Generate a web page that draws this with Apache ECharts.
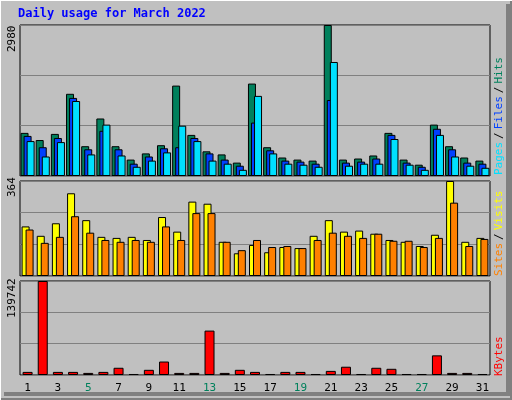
<!DOCTYPE html><html><head><meta charset="utf-8">
<script src="https://cdn.jsdelivr.net/npm/echarts@6/dist/echarts.min.js"></script>
<style>html,body{margin:0;padding:0;background:#c0c0c0}#c{width:512px;height:400px}</style></head><body><div id="c"></div>
<script>
const days = ['1','2','3','4','5','6','7','8','9','10','11','12','13','14','15','16','17','18','19','20','21','22','23','24','25','26','27','28','29','30','31'];
const weekend = ['5','6','12','13','19','20','26','27'];
const hits  = [851,710,831,1622,588,1135,588,324,446,608,1784,811,487,426,264,1824,568,365,324,304,2980,324,345,405,851,324,223,1014,588,365,304];
const files = [791,568,750,1541,527,892,527,243,385,547,568,750,446,324,203,1054,507,304,284,243,1500,264,284,345,811,264,182,932,527,264,243];
const pages = [689,385,669,1480,426,1014,405,182,304,466,993,689,304,243,122,1581,446,243,223,182,2250,203,243,243,730,223,122,811,385,203,162];
const sites = [190,154,202,317,214,150,146,150,138,226,170,285,277,131,87,119,91,111,107,154,214,170,174,162,138,131,115,158,364,131,146];
const visits= [178,127,150,229,166,138,131,138,131,190,138,241,241,131,99,138,111,115,107,138,166,154,146,162,135,135,111,146,281,115,142];
const kbytes= [4600,139742,4600,4600,3100,4600,10750,1500,7700,20000,3100,3100,66000,3100,7700,4600,1500,4600,4600,1500,6100,12300,1500,10750,9200,1500,1500,29200,3100,3100,1500];
const maxHits = 2980, maxSites = 364, maxKB = 139742;

const FONT = 'DejaVu Sans Mono';
const grids = [
  {left:20,right:22,top:25,height:151},
  {left:20,right:22,top:181,height:95},
  {left:20,right:22,top:281,height:94}
].map(g=>Object.assign(g,{show:true,backgroundColor:'#c0c0c0',borderColor:'#000',borderWidth:1}));
function xa(i,labels){return {type:'category',gridIndex:i,data:days,axisLine:{show:false},axisTick:{show:false},
  axisLabel:{show:labels,fontFamily:FONT,fontSize:11,margin:8,color:(v)=>weekend.includes(v)?'#00805c':'#000'}};}
function ya(i,max){return {type:'value',gridIndex:i,min:0,max:max,interval:max/3,axisLabel:{show:false},axisLine:{show:false},axisTick:{show:false},
  splitLine:{lineStyle:{color:'#808080',width:1}}};}
function bar(name,data,color,i,w,gap){return {name,type:'bar',xAxisIndex:i,yAxisIndex:i,data,barWidth:w,barGap:gap,
  itemStyle:{color,borderColor:'#000',borderWidth:1},animation:false};}
const chart = echarts.init(document.getElementById('c'));
chart.setOption({
  animation:false,
  backgroundColor:'#c0c0c0',
  grid:grids,
  xAxis:[xa(0,false),xa(1,false),xa(2,true)],
  yAxis:[ya(0,maxHits),ya(1,maxSites),ya(2,maxKB)],
  series:[
    bar('Hits',hits,'#00805c',0,8,'-62%'),
    bar('Files',files,'#0040ff',0,8,'-62%'),
    bar('Pages',pages,'#00e0ff',0,8,'-62%'),
    bar('Sites',sites,'#ffff00',1,8,'-50%'),
    bar('Visits',visits,'#ff8000',1,8,'-50%'),
    bar('KBytes',kbytes,'#ff0000',2,10,'0%')
  ],
  graphic:[
    {type:'rect',shape:{x:0,y:0,width:512,height:400},style:{fill:'none',stroke:'#fff',lineWidth:2},z:-1},
    {type:'polyline',shape:{points:[[1,399],[511,399],[511,1]]},style:{stroke:'#808080',lineWidth:2,fill:'none'}},
    {type:'polyline',shape:{points:[[4,394],[508,394],[508,4]]},style:{stroke:'#808080',lineWidth:4,fill:'none'}},
    {type:'text',left:18,top:8,style:{text:'Daily usage for March 2022',fill:'#0000ff',font:'bold 12px '+FONT}},
    {type:'text',x:18,y:52,rotation:Math.PI/2,style:{text:String(maxHits),fill:'#000',font:'11px '+FONT,align:'left',verticalAlign:'bottom'}},
    {type:'text',x:18,y:197,rotation:Math.PI/2,style:{text:String(maxSites),fill:'#000',font:'11px '+FONT,align:'left',verticalAlign:'bottom'}},
    {type:'text',x:18,y:318,rotation:Math.PI/2,style:{text:String(maxKB),fill:'#000',font:'11px '+FONT,align:'left',verticalAlign:'bottom'}},
    {type:'text',x:494,y:175,rotation:Math.PI/2,style:{text:'{p|Pages}{s|/}{f|Files}{s|/}{h|Hits}',font:'11px '+FONT,verticalAlign:'top',
      rich:{p:{fill:'#00e0ff',font:'11px '+FONT},f:{fill:'#0040ff',font:'11px '+FONT},h:{fill:'#00805c',font:'11px '+FONT},s:{fill:'#000',font:'11px '+FONT,padding:[0,3]}}}},
    {type:'text',x:494,y:276,rotation:Math.PI/2,style:{text:'{a|Sites}{s|/}{b|Visits}',font:'11px '+FONT,verticalAlign:'top',
      rich:{a:{fill:'#ff8000',font:'11px '+FONT},b:{fill:'#ffff00',font:'11px '+FONT},s:{fill:'#000',font:'11px '+FONT,padding:[0,3]}}}},
    {type:'text',x:494,y:376,rotation:Math.PI/2,style:{text:'KBytes',fill:'#ff0000',font:'11px '+FONT,verticalAlign:'top'}}
  ]
});
</script></body></html>
